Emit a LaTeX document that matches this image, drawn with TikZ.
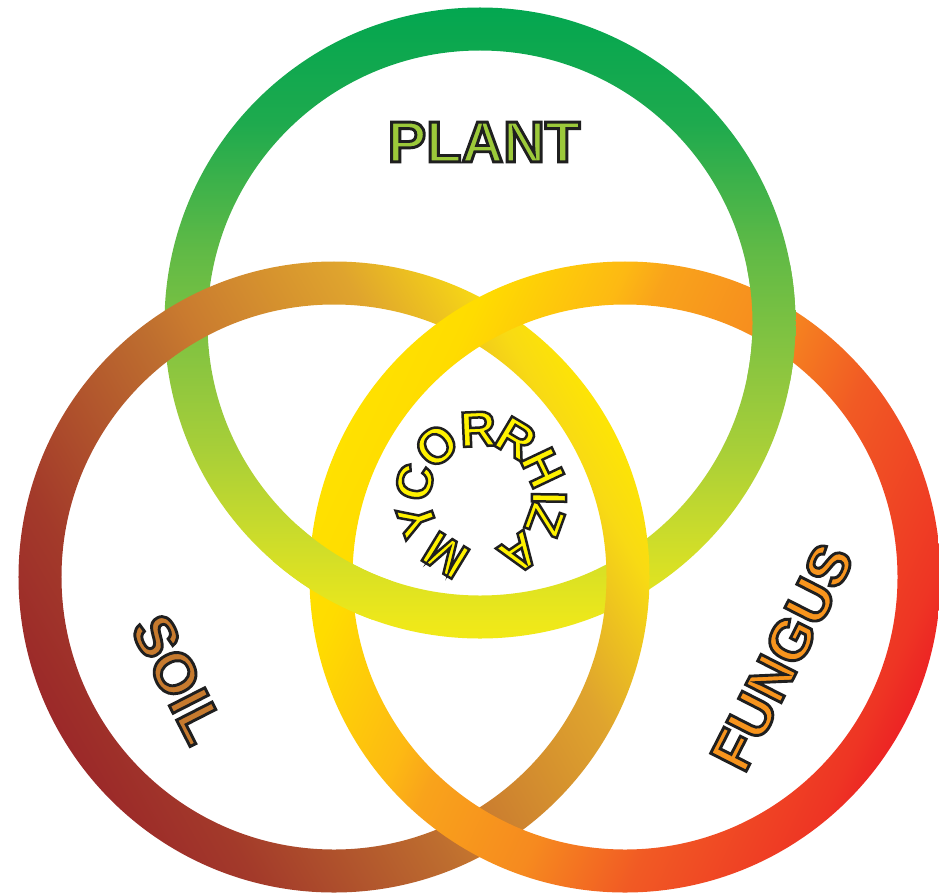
\documentclass[tikz,border=0pt]{standalone}
\usepackage{fontspec}
\setmainfont{Liberation Sans}
\newfontfamily\lblfam{Liberation Sans}[BoldFeatures={FakeBold=5}]
\usetikzlibrary{calc}
% ring colours
\definecolor{t1}{HTML}{00A650}\definecolor{t2}{HTML}{1EAA4E}\definecolor{t3}{HTML}{60BA46}
\definecolor{t4}{HTML}{8DC63F}\definecolor{t5}{HTML}{A8CF38}\definecolor{t6}{HTML}{C9DB2C}
\definecolor{t7}{HTML}{EEE81A}\definecolor{t8}{HTML}{F5EB14}
\definecolor{l1}{HTML}{9A2629}\definecolor{l2}{HTML}{A33A2A}\definecolor{l3}{HTML}{BE6E2F}
\definecolor{l4}{HTML}{C97A2F}\definecolor{l5}{HTML}{DFA42E}\definecolor{l6}{HTML}{F8DA14}
\definecolor{l7}{HTML}{FFE800}
\definecolor{r1}{HTML}{FFE200}\definecolor{r2}{HTML}{FFDC00}\definecolor{r3}{HTML}{FDB913}
\definecolor{r4}{HTML}{F9A31B}\definecolor{r5}{HTML}{F68A1F}\definecolor{r6}{HTML}{F15A24}
\definecolor{r7}{HTML}{EE3524}\definecolor{r8}{HTML}{EC1C24}
% text colours
\definecolor{plantfill}{HTML}{9CC93A}
\definecolor{soilfill}{HTML}{C67A2E}
\definecolor{fungfill}{HTML}{F7941D}
\definecolor{mycfill}{HTML}{FFF200}
\pgfdeclarehorizontalshading{topsh}{700bp}{color(0bp)=(t1); color(130bp)=(t2); color(257bp)=(t3); color(380bp)=(t4); color(457bp)=(t5); color(537bp)=(t6); color(630bp)=(t7); color(660bp)=(t8)}
\pgfdeclarehorizontalshading{leftsh}{700bp}{color(0bp)=(l1); color(110bp)=(l2); color(290bp)=(l3); color(330bp)=(l4); color(490bp)=(l5); color(600bp)=(l6); color(660bp)=(l7)}
\pgfdeclarehorizontalshading{rightsh}{700bp}{color(0bp)=(r1); color(80bp)=(r2); color(200bp)=(r3); color(240bp)=(r4); color(360bp)=(r5); color(464bp)=(r6); color(610bp)=(r7); color(660bp)=(r8)}
% outlined text: filled with the text colour, stroked dark
\newcommand{\darkstroke}{\special{pdf:literal direct 0.12 0.12 0.12 RG}}
\newcommand{\lblfont}{\lblfam\bfseries\fontsize{58}{60}\selectfont}
\newcommand{\mycfont}{\lblfam\bfseries\fontsize{50}{54}\selectfont}
\tikzset{
  lbl/.style={inner sep=0pt, outer sep=0pt},
  shadebox/.style={inner sep=0pt, outer sep=0pt},
}
\begin{document}
\begin{tikzpicture}[x=1bp,y=-1bp]
\fill[white, use as bounding box] (0,0) rectangle (939,893);
\coordinate (T) at (480,323);
\coordinate (L) at (334,577);
\coordinate (R) at (625,577);
\coordinate (X3) at (774,323);
\coordinate (X4) at (331,576);
% top ring (PLANT)
\begin{scope}[even odd rule]
  \clip (T) circle [radius=315.5bp] (T) circle [radius=272.5bp];
  \node[shadebox, rotate=-90] (topshade) at (T) {\pgfuseshading{topsh}};
\end{scope}
% left ring (SOIL)
\begin{scope}[even odd rule]
  \clip (L) circle [radius=315.5bp] (L) circle [radius=272.5bp];
  \node[shadebox, rotate=30] (leftshade) at (L) {\pgfuseshading{leftsh}};
\end{scope}
% right ring (FUNGUS)
\begin{scope}[even odd rule]
  \clip (R) circle [radius=315.5bp] (R) circle [radius=272.5bp];
  \node[shadebox, rotate=-25] (rightshade) at (R) {\pgfuseshading{rightsh}};
\end{scope}
% top ring passes over the right ring at its two crossings
\begin{scope}[even odd rule]
  \clip (X3) circle [radius=60bp] (X4) circle [radius=60bp];
  \clip (T) circle [radius=315.5bp] (T) circle [radius=272.5bp];
  \node[shadebox, rotate=-90] (topshade2) at (T) {\pgfuseshading{topsh}};
\end{scope}
% labels
\node[lbl, font=\lblfont, text=plantfill] (plant) at (484,142) {\darkstroke PLANT};
\node[lbl, font=\lblfont, text=soilfill, rotate=-63] (soil) at (178,679) {\darkstroke SOIL};
\node[lbl, font=\lblfont, text=fungfill, rotate=63] (fungus) at (782,657) {\darkstroke FUNGUS};
\coordinate (MC) at (481,497);
\foreach \ch/\a [count=\i] in {M/238.6, Y/199.7, C/167.3, O/131, R/92.6, R/59.2, H/25.3, I/-0.8, Z/-19.9, A/-55.8}{
  \pgfmathsetmacro{\rot}{\a-90}
  \node[lbl, font=\mycfont, text=mycfill, rotate=\rot] (myl\i) at ($(MC)+(-\a:68)$) {\darkstroke\ch};
}
\end{tikzpicture}
\end{document}
